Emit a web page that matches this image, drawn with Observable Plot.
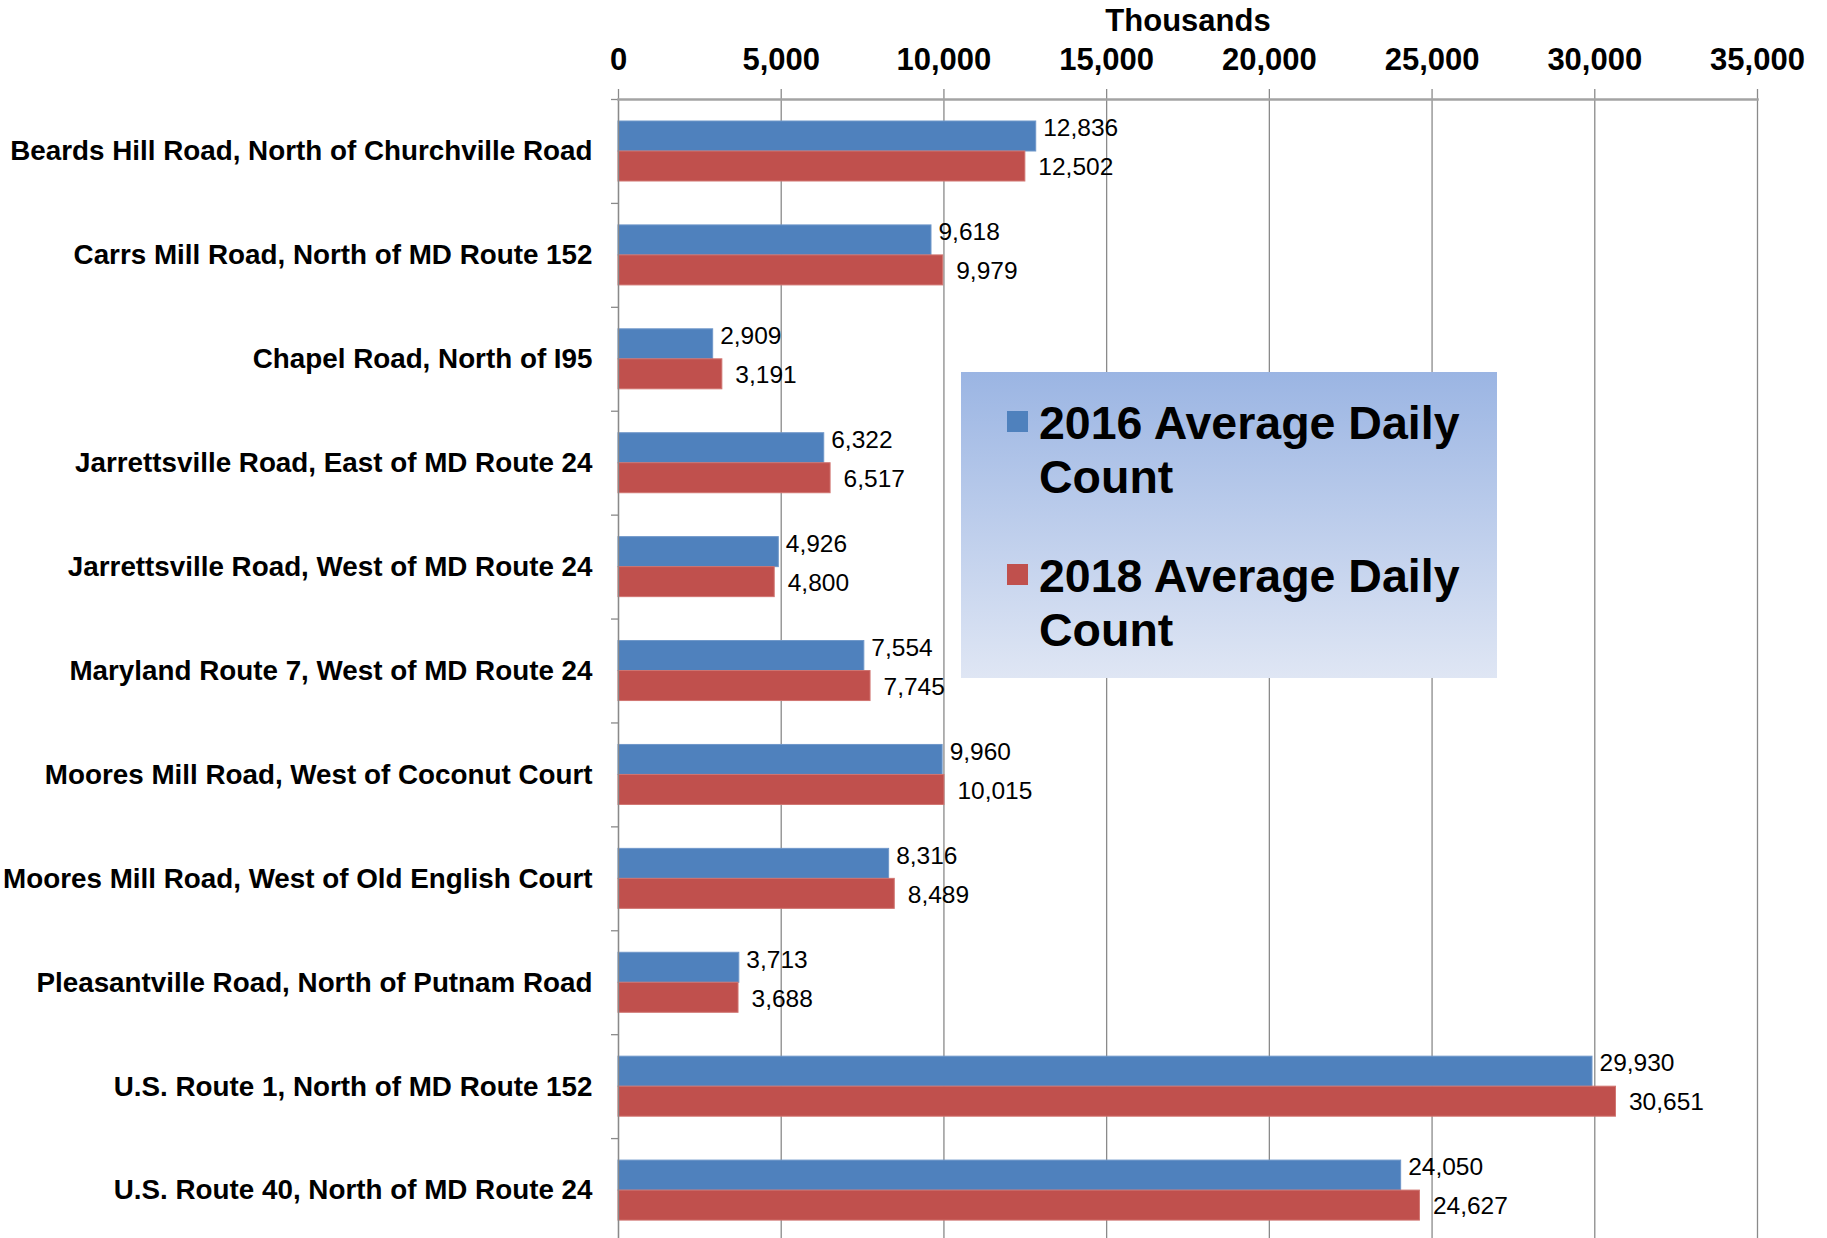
<!DOCTYPE html>
<html>
<head>
<meta charset="utf-8">
<script src="https://cdn.jsdelivr.net/npm/d3@7"></script>
<script src="https://cdn.jsdelivr.net/npm/@observablehq/plot@0.6"></script>
<style>
  html, body { margin: 0; padding: 0; background: #fff; }
  #wrap { position: relative; width: 1827px; height: 1238px; overflow: hidden; font-family: "Liberation Sans", Arial, sans-serif; }
  #legend { position: absolute; left: 961px; top: 372px; width: 536px; height: 306px;
    background: linear-gradient(to bottom, #9bb5e3, #dfe6f4); box-sizing: border-box; }
  .item { position: absolute; left: 0; width: 536px; }
  .sw { position: absolute; left: 46px; top: 15px; width: 21px; height: 21px; }
  .lt { position: absolute; left: 78px; top: 0; width: 445px; font-weight: bold; font-size: 46.5px; line-height: 54px; color: #000; }
</style>
</head>
<body>
<div id="wrap"></div>
<script>
const categories = [
  "Beards Hill Road, North of Churchville Road",
  "Carrs Mill Road, North of MD Route 152",
  "Chapel Road, North of I95",
  "Jarrettsville Road, East of MD Route 24",
  "Jarrettsville Road, West of MD Route 24",
  "Maryland Route 7, West of MD Route 24",
  "Moores Mill Road, West of Coconut Court",
  "Moores Mill Road, West of Old English Court",
  "Pleasantville Road, North of Putnam Road",
  "U.S. Route 1, North of MD Route 152",
  "U.S. Route 40, North of MD Route 24"
];
const count2016 = [12836, 9618, 2909, 6322, 4926, 7554, 9960, 8316, 3713, 29930, 24050];
const count2018 = [12502, 9979, 3191, 6517, 4800, 7745, 10015, 8489, 3688, 30651, 24627];
const seriesNames = ["2016 Average Daily Count", "2018 Average Daily Count"];
const seriesColors = ["#4f81bd", "#c0504d"];
const xTicks = [0, 5000, 10000, 15000, 20000, 25000, 30000, 35000];
const xAxisLabel = "Thousands";

const rows2016 = categories.map((c, i) => ({cat: c, v: count2016[i]}));
const rows2018 = categories.map((c, i) => ({cat: c, v: count2018[i]}));
const fmt = d3.format(",");

const plotTop = 99, plotBottom = 1242;
const band = (plotBottom - plotTop) / categories.length;

const chart = Plot.plot({
  width: 1827,
  height: 1238,
  marginTop: plotTop,
  marginLeft: 618,
  marginRight: 70,
  marginBottom: 0,
  style: {fontFamily: "Liberation Sans, Arial, sans-serif", fontSize: "24px", color: "#000", background: "#fff"},
  x: {domain: [0, 35000], range: [618, 1757]},
  y: {domain: categories, range: [plotTop, plotBottom], padding: 0, round: false},
  marks: [
    Plot.gridX(xTicks, {stroke: "#8a8a8a", strokeOpacity: 1, strokeWidth: 1.3}),
    Plot.axisX(xTicks, {anchor: "top", tickFormat: fmt, tickSize: 11, tickPadding: 18.5,
      stroke: "#8a8a8a", strokeWidth: 1.3, fontSize: 31, fontWeight: "bold", fill: "#000",
      label: xAxisLabel, labelAnchor: "center", labelOffset: 91, labelArrow: "none"}),
    Plot.ruleY(categories, {y: d => d, x1: 0, x2: 0, insetLeft: -7, dy: -band / 2, stroke: "#8a8a8a", strokeWidth: 1.3}),
    Plot.axisY({tickSize: 0, tickPadding: 26, fontSize: 27.8, fontWeight: "bold", fill: "#000", label: null}),
    Plot.barX(rows2016, {x: "v", y: "cat", fill: seriesColors[0], stroke: "#6f97c9", strokeWidth: 1, insetTop: 22, insetBottom: band - 52}),
    Plot.barX(rows2018, {x: "v", y: "cat", fill: seriesColors[1], stroke: "#d07470", strokeWidth: 1, insetTop: 52, insetBottom: band - 82}),
    Plot.ruleX([0], {stroke: "#8a8a8a", strokeWidth: 1.3}),
    Plot.frame({anchor: "top", stroke: "#a3a3a3", strokeWidth: 2.5}),
    Plot.text(rows2016, {x: "v", y: "cat", text: d => fmt(d.v), textAnchor: "start", dx: 7, dy: -23, fontSize: 24.5, fill: "#000"}),
    Plot.text(rows2018, {x: "v", y: "cat", text: d => fmt(d.v), textAnchor: "start", dx: 13, dy: 16, fontSize: 24.5, fill: "#000"})
  ]
});

const wrap = document.getElementById("wrap");
wrap.appendChild(chart);

const legend = document.createElement("div");
legend.id = "legend";
const itemTops = [24, 177];
seriesNames.forEach((name, i) => {
  const it = document.createElement("div");
  it.className = "item";
  it.style.top = itemTops[i] + "px";
  const sw = document.createElement("div");
  sw.className = "sw";
  sw.style.background = seriesColors[i];
  const t = document.createElement("div");
  t.className = "lt";
  t.textContent = name;
  it.appendChild(sw);
  it.appendChild(t);
  legend.appendChild(it);
});
wrap.appendChild(legend);
</script>
</body>
</html>
